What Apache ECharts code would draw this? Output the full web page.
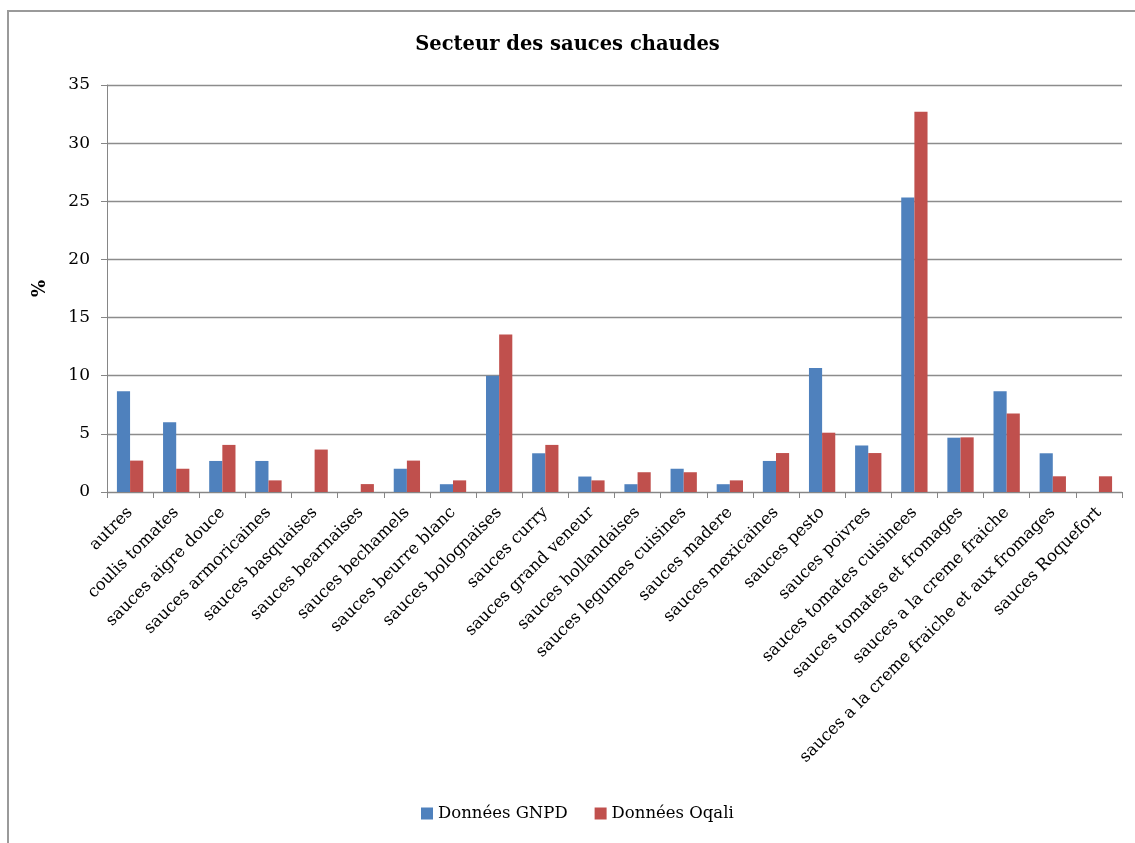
<!DOCTYPE html>
<html>
<head>
<meta charset="utf-8">
<script src="https://cdn.jsdelivr.net/npm/echarts@6/dist/echarts.min.js"></script>
<style>
html,body{margin:0;padding:0;background:#fff;overflow:hidden;}
#chart{position:absolute;left:0;top:0;width:1135px;height:843px;}
</style>
</head>
<body>
<div id="chart"></div>
<script>
const categories = [
  "autres", "coulis tomates", "sauces aigre douce", "sauces armoricaines",
  "sauces basquaises", "sauces bearnaises", "sauces bechamels", "sauces beurre blanc",
  "sauces bolognaises", "sauces curry", "sauces grand veneur", "sauces hollandaises",
  "sauces legumes cuisines", "sauces madere", "sauces mexicaines", "sauces pesto",
  "sauces poivres", "sauces tomates cuisinees", "sauces tomates et fromages",
  "sauces a la creme fraiche", "sauces a la creme fraiche et aux fromages", "sauces Roquefort"
];
const gnpd = [8.67, 6.0, 2.67, 2.67, 0, 0, 2.0, 0.67, 10.0, 3.33, 1.33, 0.67, 2.0, 0.67, 2.67, 10.67, 4.0, 25.33, 4.67, 8.67, 3.33, 0];
const oqali = [2.7, 2.0, 4.05, 1.0, 3.65, 0.68, 2.7, 1.0, 13.55, 4.05, 1.0, 1.7, 1.7, 1.0, 3.35, 5.1, 3.35, 32.7, 4.7, 6.75, 1.35, 1.35];
const seriesNames = ["Données GNPD", "Données Oqali"];
const yTicks = {min: 0, max: 35, interval: 5};

const font = "'DejaVu Serif', serif";
const chart = echarts.init(document.getElementById('chart'), null, {renderer: 'canvas'});
chart.setOption({
  backgroundColor: '#fff',
  animation: false,
  graphic: [
    {type: 'polyline', silent: true, shape: {points: [[8, 850], [8, 11], [1140, 11]]},
     style: {stroke: '#9a9a9a', lineWidth: 2, fill: null}}
  ],
  title: {
    text: 'Secteur des sauces chaudes',
    left: 'center', top: 30,
    textStyle: {fontFamily: font, fontWeight: 'bold', fontSize: 19.5, color: '#000'}
  },
  legend: {
    bottom: 16, left: 416,
    itemWidth: 12, itemHeight: 12, itemGap: 27,
    icon: 'rect',
    textStyle: {fontFamily: font, fontSize: 16.5, color: '#000', padding: [0,0,0,0]},
    data: seriesNames
  },
  grid: {left: 107, right: 13, top: 85, bottom: 351, containLabel: false},
  xAxis: {
    type: 'category',
    data: categories,
    axisLine: {lineStyle: {color: '#868686', width: 1}},
    axisTick: {show: true, alignWithLabel: false, length: 6, lineStyle: {color: '#868686'}},
    axisLabel: {rotate: 45, interval: 0, margin: 18, fontFamily: font, fontSize: 16.5, color: '#000'}
  },
  yAxis: {
    type: 'value',
    min: yTicks.min, max: yTicks.max, interval: yTicks.interval,
    name: '%', nameLocation: 'middle', nameGap: 58, nameRotate: 90,
    nameTextStyle: {fontFamily: font, fontWeight: 'bold', fontSize: 18, color: '#000'},
    axisLine: {show: true, lineStyle: {color: '#868686', width: 1}},
    axisTick: {show: true, length: 6, lineStyle: {color: '#868686'}},
    axisLabel: {margin: 17, fontFamily: font, fontSize: 17, color: '#000'},
    splitLine: {lineStyle: {color: '#8c8c8c', width: 1.3}}
  },
  series: [
    {name: seriesNames[0], type: 'bar', data: gnpd, barGap: '0%', barCategoryGap: '43%',
     itemStyle: {color: '#4F81BD'}},
    {name: seriesNames[1], type: 'bar', data: oqali, barGap: '0%', barCategoryGap: '43%',
     itemStyle: {color: '#C0504D'}}
  ]
});
</script>
</body>
</html>
